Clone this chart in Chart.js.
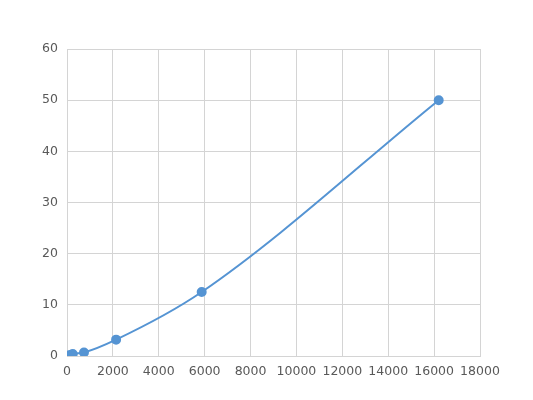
<!DOCTYPE html>
<html>
<head>
<meta charset="utf-8">
<script src="https://cdn.jsdelivr.net/npm/chart.js@4"></script>
<style>
  html, body { margin: 0; padding: 0; background: #fff; }
  #wrap { position: relative; width: 533px; height: 400px; }
</style>
</head>
<body>
<div id="wrap"><canvas id="c"></canvas></div>
<script>
// standard curve points
const concX = [120, 250, 740, 2140, 5870, 16200];
const signalY = [0.2, 0.4, 0.7, 3.2, 12.5, 50];
const xTicks = [0, 2000, 4000, 6000, 8000, 10000, 12000, 14000, 16000, 18000];
const yTicks = [0, 10, 20, 30, 40, 50, 60];

const blue = '#5594d3';
const grey = '#d4d4d4';
const text = '#595959';
const font = { family: 'DejaVu Sans', size: 12.5 };

new Chart(document.getElementById('c').getContext('2d'), {
  type: 'scatter',
  data: {
    datasets: [{
      data: concX.map((x, i) => ({ x, y: signalY[i] })),
      showLine: true,
      borderColor: blue,
      backgroundColor: blue,
      borderWidth: 2,
      pointRadius: 4,
      pointHoverRadius: 4,
      cubicInterpolationMode: 'monotone',
      fill: false
    }]
  },
  options: {
    responsive: true,
    maintainAspectRatio: false,
    animation: false,
    layout: { padding: { top: 49, right: 53, bottom: 0, left: 0 } },
    plugins: { legend: { display: false }, tooltip: { enabled: false } },
    scales: {
      x: {
        type: 'linear',
        min: xTicks[0], max: xTicks[xTicks.length - 1],
        afterBuildTicks: s => { s.ticks = xTicks.map(v => ({ value: v })); },
        ticks: { color: text, font, padding: 8, maxRotation: 0, autoSkip: false, callback: v => String(v) },
        grid: { color: grey, drawTicks: false },
        border: { color: grey },
        afterFit: s => { s.height = 44; }
      },
      y: {
        min: yTicks[0], max: yTicks[yTicks.length - 1],
        afterBuildTicks: s => { s.ticks = yTicks.map(v => ({ value: v })); },
        ticks: { color: text, font, padding: 9, callback: v => String(v) },
        grid: { color: grey, drawTicks: false },
        border: { color: grey },
        afterFit: s => { s.width = 67; }
      }
    }
  }
});
</script>
</body>
</html>
